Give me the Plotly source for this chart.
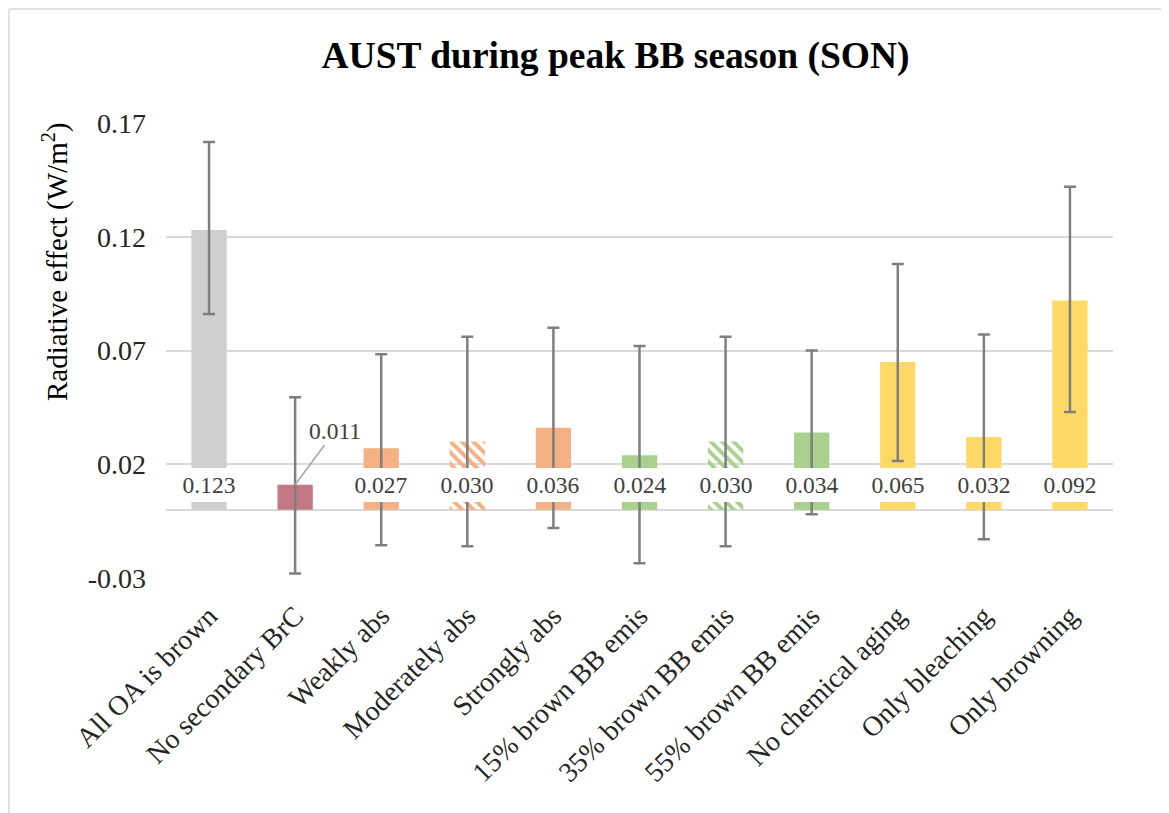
import plotly.graph_objects as go

categories = ["All OA is brown", "No secondary BrC", "Weakly abs", "Moderately abs",
              "Strongly abs", "15% brown BB emis", "35% brown BB emis", "55% brown BB emis",
              "No chemical aging", "Only bleaching", "Only browning"]
values = [0.123, 0.011, 0.027, 0.030, 0.036, 0.024, 0.030, 0.034, 0.065, 0.032, 0.092]
err_plus = [0.0386, 0.0385, 0.0414, 0.046, 0.044, 0.048, 0.046, 0.036, 0.043, 0.045, 0.050]
err_minus = [0.037, 0.039, 0.0426, 0.046, 0.044, 0.0475, 0.046, 0.036, 0.0436, 0.045, 0.049]
bar_colors = ["#D0CECE", "#C47883", "#F4B183", "#F4B183", "#F4B183", "#A9D18E",
              "#A9D18E", "#A9D18E", "#FFD966", "#FFD966", "#FFD966"]
patterns = ["", "", "", "\\", "", "", "\\", "", "", "", ""]
tick_vals = [-0.03, 0.02, 0.07, 0.12, 0.17]
tick_text = ["-0.03", "0.02", "0.07", "0.12", "0.17"]

OFF = 8  # page body margin
W, H = 1169 - OFF, 813 - OFF
L, R, T, B = 166 - OFF, 56, 123 - OFF, 235
pw, ph = W - L - R, H - T - B

def px_x(p):
    return (p - OFF - L) / pw

def px_y(p):
    return (H - B - (p - OFF)) / ph

FONT = "Liberation Serif, Times New Roman, serif"

fig = go.Figure()
fig.add_trace(go.Bar(
    x=categories, y=values,
    marker=dict(color=bar_colors, line=dict(width=0),
                pattern=dict(shape=patterns, fillmode="replace", size=8, solidity=0.5)),
    error_y=dict(type="data", symmetric=False, array=err_plus, arrayminus=err_minus,
                 color="#7F7F7F", thickness=2.5, width=6),
    width=0.41,
    hoverinfo="skip",
))

annotations = []
for c, v in zip(categories, values):
    if c == "No secondary BrC":
        annotations.append(dict(x=c, y=v, xref="x", yref="y", text=f"{v:.3f}",
                                showarrow=True, arrowhead=0, arrowwidth=1.5,
                                arrowcolor="#A6A6A6", ax=40, ay=-54,
                                font=dict(family=FONT, size=23.5, color="#404040")))
    else:
        annotations.append(dict(x=c, y=0.0108, xref="x", yref="y", text=f"{v:.3f}",
                                showarrow=False, bgcolor="white", width=60, height=32,
                                borderpad=1, borderwidth=0, yanchor="middle",
                                font=dict(family=FONT, size=23.5, color="#404040")))

annotations.append(dict(x=px_x(55), y=px_y(262), xref="paper", yref="paper",
                        xanchor="center", yanchor="middle",
                        text="Radiative effect (W/m<sup>2</sup>)", textangle=-90,
                        showarrow=False, font=dict(family=FONT, size=29, color="black")))

shapes = [
    dict(type="line", xref="paper", yref="paper", x0=px_x(9), x1=px_x(9),
         y0=px_y(9), y1=px_y(830), line=dict(color="#D9D9D9", width=1.5)),
    dict(type="line", xref="paper", yref="paper", x0=px_x(9), x1=px_x(1190),
         y0=px_y(9), y1=px_y(9), line=dict(color="#D9D9D9", width=1.5)),
]

fig.update_layout(
    width=W, height=H,
    margin=dict(l=L, r=R, t=T, b=B, autoexpand=False),
    paper_bgcolor="white", plot_bgcolor="white",
    showlegend=False,
    title=dict(text="<b>AUST during peak BB season (SON)</b>", x=(615.5 - OFF) / W,
               xref="container", xanchor="center", y=1 - (55 - OFF) / H,
               yref="container", yanchor="middle",
               font=dict(family=FONT, size=37.5, color="black")),
    xaxis=dict(tickangle=-45, tickfont=dict(family=FONT, size=28, color="#262626"),
               showgrid=False, showline=False, ticks="", ticklabelstandoff=15),
    yaxis=dict(range=[-0.03, 0.17], tickvals=tick_vals, ticktext=tick_text,
               showgrid=True, gridcolor="#D9D9D9", gridwidth=1.5,
               zeroline=True, zerolinecolor="#D9D9D9", zerolinewidth=1.5,
               showline=False, ticks="", ticklabelstandoff=19,
               tickfont=dict(family=FONT, size=28, color="#262626")),
    annotations=annotations,
    shapes=shapes,
    bargap=0.59,
)

fig.write_html("out.html")
